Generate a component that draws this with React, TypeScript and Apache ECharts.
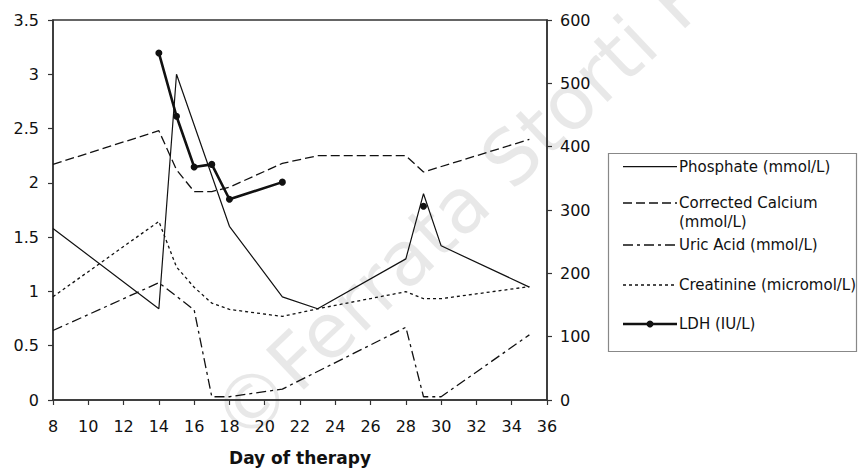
import React, { useEffect, useRef } from "react";
import * as echarts from "echarts";

const FONT = "DejaVu Sans";

const seriesNames = [
  "Phosphate (mmol/L)",
  "Corrected Calcium\n(mmol/L)",
  "Uric Acid (mmol/L)",
  "Creatinine (micromol/L)",
  "LDH (IU/L)",
];

const phosphateDays = [8, 14, 15, 18, 21, 23, 28, 29, 30, 35];
const phosphate = [1.58, 0.84, 3.0, 1.6, 0.95, 0.84, 1.3, 1.9, 1.42, 1.04];

const calciumDays = [8, 14, 15, 16, 17, 18, 21, 23, 28, 29, 35];
const calcium = [2.17, 2.48, 2.12, 1.92, 1.92, 1.96, 2.18, 2.25, 2.25, 2.1, 2.4];

const uricDays = [8, 14, 16, 17, 18, 21, 28, 29, 30, 35];
const uric = [0.64, 1.08, 0.83, 0.03, 0.03, 0.1, 0.67, 0.03, 0.03, 0.6];

const creatinineDays = [8, 14, 15, 16, 17, 18, 21, 23, 28, 29, 30, 35];
const creatinine = [163, 282, 210, 178, 153, 143, 132, 144, 171, 160, 160, 179];

const ldhDays = [14, 15, 16, 17, 18, 21, 25, 29];
const ldh = [548, 448, 368, 372, 317, 344, null, 306];

const xTicks = { min: 8, max: 36, interval: 2 };
const leftTicks = { min: 0, max: 3.5, interval: 0.5 };
const rightTicks = { min: 0, max: 600, interval: 100 };

const pairs = (days: number[], vals: (number | null)[]) =>
  days.map((d, i) => [d, vals[i] === null ? "-" : vals[i]]);

const dashes: any[] = ["solid", [9, 4], [10, 4, 3, 4], [3, 3], "solid"];
const widths = [1.2, 1.3, 1.3, 1.3, 2.6];

export default function App() {
  const ref = useRef<HTMLDivElement>(null);
  useEffect(() => {
    if (!ref.current) return;
    const chart = echarts.init(ref.current, null, { renderer: "svg" });

    const axisLine = { show: true, lineStyle: { color: "#333", width: 1.5 } };
    const axisTick = { show: true, inside: false, length: 5, lineStyle: { color: "#333", width: 1.2 } };
    const axisLabel = (margin: number) => ({
      color: "#111",
      fontSize: 16,
      fontFamily: FONT,
      margin,
    });

    // legend drawn as graphic
    const legendX0 = 623;
    const legendX1 = 677;
    const legendRows = [166.7, 203, 245, 285, 324];
    const legendEls: any[] = [
      {
        type: "rect",
        shape: { x: 608.5, y: 153.5, width: 248, height: 198 },
        style: { fill: "#fff", stroke: "#888", lineWidth: 1.2 },
        z: 10,
      },
    ];
    seriesNames.forEach((name, i) => {
      const y = legendRows[i];
      legendEls.push({
        type: "line",
        shape: { x1: legendX0, y1: y, x2: legendX1, y2: y },
        style: {
          stroke: "#111",
          lineWidth: widths[i],
          lineDash: Array.isArray(dashes[i]) ? dashes[i] : null,
        },
        z: 11,
      });
      if (i === 4) {
        legendEls.push({
          type: "circle",
          shape: { cx: (legendX0 + legendX1) / 2, cy: y, r: 3.5 },
          style: { fill: "#111" },
          z: 11,
        });
      }
      legendEls.push({
        type: "text",
        x: 679,
        y: y - 9.5,
        style: {
          text: name,
          font: `15px "${FONT}"`,
          fill: "#111",
          lineHeight: 18.7,
          textAlign: "left",
          textVerticalAlign: "top",
        },
        z: 11,
      });
    });

    chart.setOption({
      animation: false,
      backgroundColor: "#fff",
      grid: {
        left: 53,
        right: 311,
        top: 20,
        bottom: 72,
        show: true,
        borderColor: "#333",
        borderWidth: 1.5,
      },
      xAxis: {
        type: "value",
        min: xTicks.min,
        max: xTicks.max,
        interval: xTicks.interval,
        axisLine,
        axisTick,
        axisLabel: axisLabel(18),
        splitLine: { show: false },
        name: "Day of therapy",
        nameLocation: "middle",
        nameGap: 49,
        nameTextStyle: { fontFamily: FONT, fontWeight: "bold", fontSize: 17, color: "#111" },
      },
      yAxis: [
        {
          type: "value",
          min: leftTicks.min,
          max: leftTicks.max,
          interval: leftTicks.interval,
          axisLine,
          axisTick,
          axisLabel: axisLabel(14),
          splitLine: { show: false },
        },
        {
          type: "value",
          position: "right",
          min: rightTicks.min,
          max: rightTicks.max,
          interval: rightTicks.interval,
          axisLine,
          axisTick,
          axisLabel: axisLabel(13),
          splitLine: { show: false },
        },
      ],
      graphic: [
        {
          type: "text",
          x: 225,
          y: 428,
          rotation: 0.759,
          silent: true,
          z: 0,
          style: {
            text: "©Ferrata Storti Foundation",
            font: `76px "${FONT}"`,
            fill: "rgba(0,0,0,0.09)",
            textAlign: "left",
            textVerticalAlign: "middle",
          },
        },
        ...legendEls,
      ],
      series: [
        {
          name: seriesNames[0],
          type: "line",
          yAxisIndex: 0,
          data: pairs(phosphateDays, phosphate),
          showSymbol: false,
          lineStyle: { color: "#111", width: widths[0], type: dashes[0] },
        },
        {
          name: seriesNames[1],
          type: "line",
          yAxisIndex: 0,
          data: pairs(calciumDays, calcium),
          showSymbol: false,
          lineStyle: { color: "#111", width: widths[1], type: dashes[1] },
        },
        {
          name: seriesNames[2],
          type: "line",
          yAxisIndex: 0,
          data: pairs(uricDays, uric),
          showSymbol: false,
          lineStyle: { color: "#111", width: widths[2], type: dashes[2] },
        },
        {
          name: seriesNames[3],
          type: "line",
          yAxisIndex: 1,
          data: pairs(creatinineDays, creatinine),
          showSymbol: false,
          lineStyle: { color: "#111", width: widths[3], type: dashes[3] },
        },
        {
          name: seriesNames[4],
          type: "line",
          yAxisIndex: 1,
          data: pairs(ldhDays, ldh),
          connectNulls: false,
          showSymbol: true,
          symbol: "circle",
          symbolSize: 7,
          itemStyle: { color: "#111" },
          lineStyle: { color: "#111", width: widths[4], type: dashes[4] },
        },
      ],
    });
    return () => chart.dispose();
  }, []);
  return (
    <div
      ref={ref}
      style={{ position: "fixed", left: 0, top: 0, width: 858, height: 472 }}
    />
  );
}
